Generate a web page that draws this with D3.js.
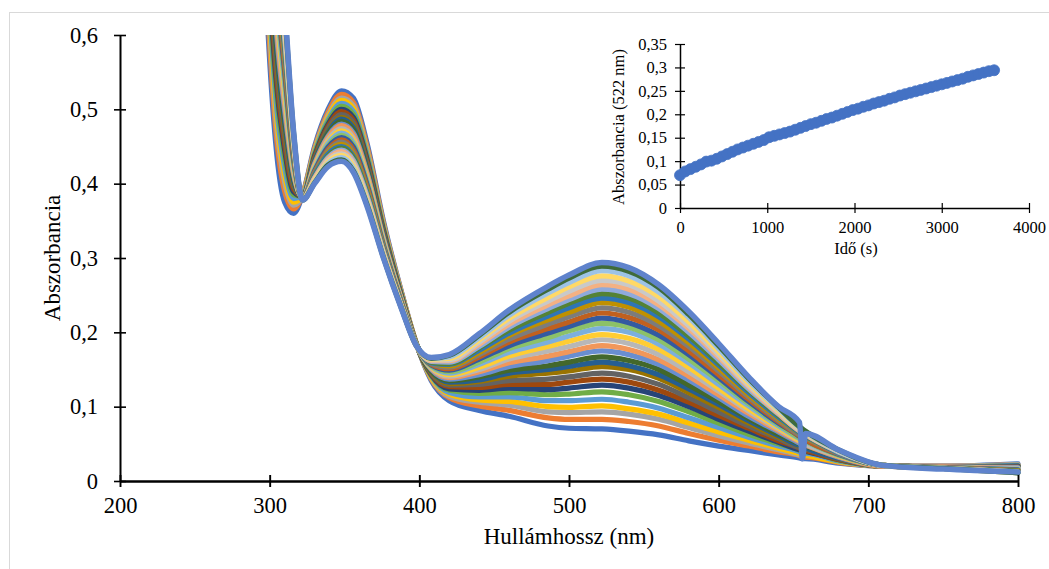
<!DOCTYPE html>
<html>
<head>
<meta charset="utf-8">
<script src="https://cdn.jsdelivr.net/npm/d3@7"></script>
<style>
  body { margin: 0; background: #fff; }
  svg { display: block; }
  text { font-family: "Liberation Serif", "Times New Roman", serif; fill: #000; }
</style>
</head>
<body>
<svg id="chart" width="1049" height="569"></svg>
<script>
// Wavelength grid (nm) shared by every recorded spectrum
const wavelengths = [292, 298, 304, 310, 316, 322, 330, 339, 348, 356, 365, 376, 388, 398, 408, 420, 440, 460, 486, 500, 522, 540, 560, 580, 600, 620, 640, 654, 656, 658, 680, 710, 750, 800];

// Recording time of each spectrum (s)
const spectrumTimes = [0, 120, 240, 360, 480, 600, 720, 840, 960, 1080, 1200, 1320, 1440, 1560, 1680, 1800, 1920, 2040, 2160, 2280, 2400, 2520, 2640, 2760, 2880, 3000, 3120, 3240, 3360, 3480, 3600];

// Absorbance spectra, one row per recording time
const spectra = [
  [0.95,0.64,0.455,0.375,0.36,0.385,0.45,0.5,0.525,0.515,0.455,0.35,0.255,0.185,0.135,0.108,0.095,0.087,0.074,0.071,0.07,0.067,0.062,0.054,0.047,0.041,0.035,0.031,0.03,0.03,0.024,0.02,0.02,0.023],
  [0.988,0.664,0.475,0.39,0.366,0.385,0.447,0.496,0.52,0.509,0.45,0.347,0.254,0.185,0.137,0.112,0.101,0.095,0.085,0.083,0.083,0.08,0.074,0.064,0.055,0.047,0.039,0.034,0.032,0.032,0.025,0.02,0.02,0.022],
  [1.017,0.682,0.491,0.402,0.371,0.384,0.445,0.492,0.515,0.505,0.446,0.345,0.253,0.185,0.138,0.114,0.106,0.102,0.093,0.092,0.093,0.09,0.083,0.072,0.061,0.051,0.042,0.035,0.034,0.034,0.026,0.02,0.02,0.022],
  [1.04,0.697,0.503,0.412,0.375,0.384,0.443,0.489,0.512,0.501,0.443,0.343,0.252,0.185,0.139,0.117,0.109,0.107,0.1,0.099,0.101,0.097,0.09,0.078,0.066,0.055,0.044,0.037,0.036,0.035,0.026,0.02,0.019,0.021],
  [1.066,0.713,0.517,0.422,0.38,0.384,0.441,0.486,0.508,0.497,0.44,0.341,0.251,0.184,0.141,0.119,0.113,0.113,0.108,0.108,0.11,0.106,0.098,0.085,0.072,0.059,0.047,0.039,0.037,0.037,0.027,0.02,0.019,0.021],
  [1.095,0.731,0.532,0.434,0.385,0.383,0.439,0.483,0.504,0.493,0.436,0.339,0.25,0.184,0.142,0.122,0.118,0.119,0.116,0.117,0.12,0.116,0.107,0.093,0.078,0.063,0.05,0.041,0.039,0.039,0.028,0.02,0.019,0.02],
  [1.121,0.748,0.546,0.445,0.389,0.383,0.437,0.48,0.5,0.489,0.433,0.337,0.249,0.184,0.143,0.124,0.122,0.125,0.123,0.125,0.129,0.125,0.115,0.1,0.083,0.067,0.052,0.042,0.041,0.04,0.029,0.02,0.019,0.02],
  [1.144,0.763,0.558,0.454,0.393,0.383,0.435,0.477,0.497,0.485,0.43,0.335,0.248,0.184,0.144,0.127,0.126,0.13,0.13,0.133,0.137,0.133,0.122,0.106,0.088,0.071,0.054,0.044,0.042,0.041,0.029,0.02,0.019,0.019],
  [1.168,0.777,0.571,0.464,0.397,0.383,0.433,0.474,0.493,0.482,0.427,0.333,0.247,0.184,0.145,0.129,0.13,0.135,0.137,0.14,0.145,0.141,0.13,0.112,0.093,0.074,0.057,0.045,0.044,0.043,0.03,0.02,0.019,0.019],
  [1.194,0.794,0.584,0.474,0.401,0.382,0.431,0.471,0.489,0.478,0.423,0.331,0.246,0.184,0.147,0.131,0.134,0.141,0.145,0.148,0.154,0.15,0.138,0.119,0.099,0.078,0.059,0.047,0.045,0.044,0.031,0.02,0.019,0.018],
  [1.211,0.805,0.594,0.482,0.404,0.382,0.43,0.469,0.487,0.475,0.421,0.33,0.246,0.184,0.148,0.133,0.136,0.145,0.15,0.154,0.16,0.155,0.143,0.124,0.103,0.081,0.061,0.048,0.047,0.045,0.031,0.02,0.019,0.018],
  [1.232,0.818,0.604,0.49,0.408,0.382,0.428,0.467,0.484,0.472,0.418,0.328,0.245,0.184,0.148,0.135,0.14,0.149,0.155,0.16,0.167,0.162,0.15,0.129,0.107,0.084,0.063,0.05,0.048,0.047,0.032,0.02,0.019,0.018],
  [1.255,0.832,0.617,0.499,0.412,0.382,0.427,0.464,0.48,0.468,0.415,0.327,0.244,0.184,0.15,0.137,0.143,0.154,0.162,0.168,0.175,0.17,0.157,0.136,0.112,0.087,0.066,0.051,0.049,0.048,0.032,0.02,0.019,0.018],
  [1.275,0.845,0.628,0.508,0.415,0.382,0.425,0.462,0.478,0.465,0.413,0.325,0.244,0.184,0.151,0.139,0.147,0.159,0.168,0.174,0.182,0.177,0.163,0.141,0.116,0.091,0.068,0.053,0.051,0.049,0.033,0.02,0.019,0.017],
  [1.298,0.86,0.64,0.517,0.419,0.381,0.423,0.459,0.474,0.461,0.409,0.323,0.243,0.183,0.152,0.141,0.15,0.164,0.175,0.181,0.19,0.185,0.17,0.147,0.121,0.094,0.07,0.054,0.052,0.05,0.034,0.021,0.018,0.017],
  [1.319,0.873,0.651,0.525,0.422,0.381,0.422,0.456,0.471,0.458,0.407,0.322,0.242,0.183,0.153,0.143,0.153,0.168,0.181,0.188,0.197,0.192,0.177,0.153,0.125,0.097,0.072,0.055,0.053,0.052,0.034,0.021,0.018,0.016],
  [1.342,0.887,0.663,0.535,0.426,0.381,0.42,0.454,0.468,0.455,0.404,0.32,0.241,0.183,0.154,0.145,0.157,0.173,0.187,0.195,0.205,0.2,0.184,0.159,0.13,0.101,0.074,0.057,0.055,0.053,0.035,0.021,0.018,0.016],
  [1.362,0.9,0.674,0.543,0.43,0.381,0.418,0.451,0.465,0.452,0.401,0.318,0.24,0.183,0.155,0.147,0.16,0.178,0.193,0.202,0.212,0.207,0.19,0.164,0.135,0.104,0.076,0.058,0.056,0.054,0.035,0.021,0.018,0.015],
  [1.382,0.913,0.684,0.551,0.433,0.38,0.417,0.449,0.462,0.449,0.399,0.317,0.24,0.183,0.156,0.149,0.164,0.182,0.199,0.208,0.219,0.213,0.196,0.17,0.139,0.107,0.078,0.06,0.057,0.055,0.036,0.021,0.018,0.015],
  [1.402,0.925,0.695,0.559,0.437,0.38,0.415,0.446,0.459,0.445,0.396,0.315,0.239,0.183,0.157,0.151,0.167,0.187,0.205,0.214,0.226,0.22,0.203,0.175,0.143,0.11,0.08,0.061,0.059,0.056,0.037,0.021,0.018,0.014],
  [1.423,0.939,0.706,0.568,0.44,0.38,0.414,0.444,0.456,0.442,0.393,0.314,0.238,0.183,0.158,0.153,0.17,0.191,0.211,0.221,0.233,0.227,0.209,0.181,0.148,0.113,0.082,0.062,0.06,0.058,0.037,0.021,0.018,0.014],
  [1.443,0.951,0.717,0.576,0.444,0.38,0.412,0.442,0.453,0.439,0.391,0.312,0.238,0.183,0.159,0.155,0.173,0.196,0.217,0.227,0.24,0.234,0.215,0.186,0.152,0.116,0.084,0.064,0.061,0.059,0.038,0.021,0.017,0.014],
  [1.461,0.962,0.726,0.583,0.447,0.38,0.411,0.44,0.45,0.436,0.388,0.311,0.237,0.183,0.159,0.157,0.176,0.199,0.222,0.233,0.246,0.24,0.221,0.191,0.156,0.119,0.086,0.065,0.062,0.06,0.038,0.021,0.017,0.013],
  [1.479,0.973,0.736,0.59,0.449,0.379,0.409,0.437,0.448,0.434,0.386,0.309,0.236,0.183,0.16,0.158,0.179,0.203,0.227,0.239,0.252,0.246,0.226,0.195,0.159,0.122,0.088,0.066,0.063,0.061,0.039,0.021,0.017,0.013],
  [1.495,0.984,0.745,0.597,0.452,0.379,0.408,0.435,0.445,0.431,0.384,0.308,0.236,0.183,0.161,0.16,0.181,0.207,0.232,0.244,0.258,0.252,0.232,0.2,0.163,0.124,0.09,0.067,0.064,0.062,0.039,0.021,0.017,0.012],
  [1.513,0.995,0.754,0.605,0.455,0.379,0.407,0.433,0.443,0.428,0.381,0.307,0.235,0.182,0.162,0.162,0.184,0.211,0.237,0.249,0.264,0.258,0.237,0.205,0.167,0.127,0.091,0.068,0.066,0.063,0.04,0.021,0.017,0.012],
  [1.531,1.006,0.763,0.612,0.458,0.379,0.405,0.431,0.44,0.426,0.379,0.305,0.235,0.182,0.163,0.163,0.187,0.215,0.242,0.255,0.27,0.264,0.242,0.209,0.17,0.129,0.093,0.069,0.067,0.064,0.04,0.021,0.017,0.012],
  [1.548,1.017,0.772,0.619,0.461,0.379,0.404,0.429,0.438,0.423,0.377,0.304,0.234,0.182,0.164,0.165,0.19,0.219,0.247,0.261,0.276,0.269,0.248,0.214,0.174,0.132,0.095,0.071,0.068,0.065,0.041,0.021,0.017,0.011],
  [1.568,1.03,0.783,0.627,0.465,0.378,0.402,0.427,0.435,0.42,0.374,0.302,0.233,0.182,0.165,0.167,0.193,0.223,0.253,0.267,0.283,0.276,0.254,0.22,0.178,0.135,0.097,0.072,0.069,0.066,0.041,0.021,0.017,0.011],
  [1.586,1.041,0.792,0.634,0.468,0.378,0.401,0.425,0.432,0.417,0.372,0.301,0.233,0.182,0.165,0.169,0.196,0.227,0.258,0.273,0.289,0.282,0.26,0.224,0.182,0.138,0.099,0.073,0.07,0.067,0.042,0.021,0.017,0.011],
  [1.6,1.05,0.8,0.64,0.47,0.378,0.4,0.423,0.43,0.415,0.37,0.3,0.232,0.182,0.166,0.17,0.198,0.23,0.262,0.277,0.294,0.287,0.264,0.228,0.185,0.14,0.1,0.079,0.03,0.064,0.042,0.021,0.016,0.012]
];

// Series colours, in plotting order
const seriesColors = [
  "#4472C4", "#ED7D31", "#A5A5A5", "#FFC000", "#5B9BD5", "#70AD47",
  "#264478", "#9E480E", "#636363", "#997300", "#255E91", "#43682B",
  "#698ED0", "#F1975A", "#B7B7B7", "#FFCD33", "#7CAFDD", "#8CC168",
  "#335AA1", "#C0601E", "#7C7C7C", "#BF9000", "#2E75B6", "#548235",
  "#8FAADC", "#F4B183", "#C9C9C9", "#FFD966", "#9DC3E6", "#3F6B3A",
  "#5F83CC"
];

const mainXTicks = [200, 300, 400, 500, 600, 700, 800];
const mainYTicks = [0, 0.1, 0.2, 0.3, 0.4, 0.5, 0.6];

// Kinetics at 522 nm
const kineticTime = [0, 60, 120, 180, 240, 300, 360, 420, 480, 540, 600, 660, 720, 780, 840, 900, 960, 1020, 1080, 1140, 1200, 1260, 1320, 1380, 1440, 1500, 1560, 1620, 1680, 1740, 1800, 1860, 1920, 1980, 2040, 2100, 2160, 2220, 2280, 2340, 2400, 2460, 2520, 2580, 2640, 2700, 2760, 2820, 2880, 2940, 3000, 3060, 3120, 3180, 3240, 3300, 3360, 3420, 3480, 3540, 3600];
const kineticAbs = [0.070, 0.078, 0.083, 0.088, 0.093, 0.099, 0.101, 0.105, 0.110, 0.115, 0.120, 0.125, 0.129, 0.133, 0.137, 0.141, 0.145, 0.151, 0.154, 0.157, 0.160, 0.163, 0.167, 0.171, 0.175, 0.179, 0.182, 0.186, 0.190, 0.193, 0.197, 0.201, 0.205, 0.209, 0.212, 0.216, 0.219, 0.223, 0.226, 0.229, 0.233, 0.236, 0.240, 0.243, 0.246, 0.249, 0.252, 0.255, 0.258, 0.261, 0.264, 0.267, 0.270, 0.273, 0.276, 0.280, 0.283, 0.286, 0.289, 0.292, 0.294];

const insetXTicks = [0, 1000, 2000, 3000, 4000];
const insetYTicks = [0, 0.05, 0.1, 0.15, 0.2, 0.25, 0.3, 0.35];

const decimalComma = d => String(d).replace(".", ",");

const svg = d3.select("#chart");

// Light chart-area frame
svg.append("rect")
  .attr("x", 9.5).attr("y", 12.5)
  .attr("width", 1100).attr("height", 600)
  .attr("fill", "none").attr("stroke", "#d9d9d9").attr("stroke-width", 1);

// ---------- Main spectra plot ----------
const x = d3.scaleLinear().domain([200, 800]).range([120, 1018]);
const y = d3.scaleLinear().domain([0, 0.6]).range([481, 35]);

svg.append("clipPath").attr("id", "plotClip")
  .append("rect").attr("x", 120).attr("y", 35).attr("width", 910).attr("height", 460);

const spectrumLine = d3.line()
  .x((d, i) => x(wavelengths[i]))
  .y(d => y(d))
  .curve(d3.curveMonotoneX);

svg.append("g")
  .attr("clip-path", "url(#plotClip)")
  .selectAll("path")
  .data(spectra)
  .join("path")
  .attr("d", spectrumLine)
  .attr("fill", "none")
  .attr("stroke", (d, i) => seriesColors[i % seriesColors.length])
  .attr("stroke-width", (d, i) => i === spectra.length - 1 ? 5.5 : 5.2)
  .attr("stroke-linejoin", "round")
  .attr("stroke-linecap", "round");

function styleAxis(g, fontSize, lineWidth, cross, horizontal) {
  g.attr("font-family", null).attr("font-size", null);
  g.select(".domain").attr("stroke", "#000").attr("stroke-width", lineWidth);
  g.selectAll(".tick line").attr("stroke", "#000").attr("stroke-width", lineWidth * 0.8);
  if (horizontal) g.selectAll(".tick line").attr("y1", -cross);
  else g.selectAll(".tick line").attr("x1", cross);
  g.selectAll(".tick text").style("font-size", fontSize + "px");
}

svg.append("g")
  .attr("transform", "translate(120,0)")
  .call(d3.axisLeft(y).tickValues(mainYTicks).tickFormat(decimalComma)
    .tickSizeInner(6).tickSizeOuter(0).tickPadding(16))
  .call(g => styleAxis(g, 22.5, 2, 6, false));

svg.append("g")
  .attr("transform", "translate(0,481)")
  .call(d3.axisBottom(x).tickValues(mainXTicks).tickFormat(d3.format("d"))
    .tickSizeInner(6).tickSizeOuter(0).tickPadding(10))
  .call(g => styleAxis(g, 22.5, 2.4, 6, true));

svg.append("text")
  .attr("x", 569).attr("y", 544)
  .attr("text-anchor", "middle")
  .style("font-size", "23px")
  .text("Hullámhossz (nm)");

svg.append("text")
  .attr("transform", "translate(60,258) rotate(-90)")
  .attr("text-anchor", "middle")
  .style("font-size", "23px")
  .text("Abszorbancia");

// ---------- Inset: absorbance at 522 nm versus time ----------
const xi = d3.scaleLinear().domain([0, 4000]).range([680, 1029]);
const yi = d3.scaleLinear().domain([0, 0.35]).range([208, 44]);

svg.append("g")
  .attr("transform", "translate(680,0)")
  .call(d3.axisLeft(yi).tickValues(insetYTicks).tickFormat(decimalComma)
    .tickSizeInner(5).tickSizeOuter(0).tickPadding(8))
  .call(g => styleAxis(g, 16.5, 1.5, 5, false));

svg.append("g")
  .attr("transform", "translate(0,208)")
  .call(d3.axisBottom(xi).tickValues(insetXTicks).tickFormat(d3.format("d"))
    .tickSizeInner(5).tickSizeOuter(0).tickPadding(8))
  .call(g => styleAxis(g, 16.5, 1.5, 5, true));

svg.append("g")
  .selectAll("circle")
  .data(kineticTime)
  .join("circle")
  .attr("cx", d => xi(d))
  .attr("cy", (d, i) => yi(kineticAbs[i]))
  .attr("r", 5.5)
  .attr("fill", "#4472C4")
  .attr("stroke", "#4472C4")
  .attr("stroke-width", 0.8);

svg.append("text")
  .attr("x", 856).attr("y", 254)
  .attr("text-anchor", "middle")
  .style("font-size", "16.5px")
  .text("Idő (s)");

svg.append("text")
  .attr("transform", "translate(624,127) rotate(-90)")
  .attr("text-anchor", "middle")
  .style("font-size", "16.5px")
  .text("Abszorbancia (522 nm)");
</script>
</body>
</html>
